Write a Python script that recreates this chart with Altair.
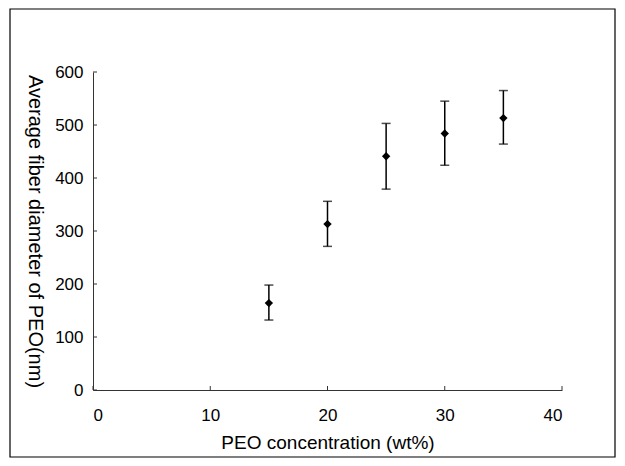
import altair as alt
import pandas as pd

conc = [15, 20, 25, 30, 35]
diam = [164, 313, 441, 484, 513]
low = [132, 271, 379, 424, 464]
high = [198, 356, 503, 545, 565]

x_ticks = [0, 10, 20, 30, 40]
y_ticks = [0, 100, 200, 300, 400, 500, 600]

df = pd.DataFrame({"conc": conc, "diam": diam, "low": low, "high": high})
xt = pd.DataFrame({"v": x_ticks})
yt = pd.DataFrame({"v": y_ticks})

W, H = 469, 318
FONT = "Liberation Sans"

xscale = alt.Scale(domain=[0, 40], nice=False)
yscale = alt.Scale(domain=[0, 600], nice=False)

xaxis = alt.Axis(values=x_ticks, ticks=False, grid=False, domainColor="#333",
                 labelFontSize=17, labelColor="black", labelFont=FONT, labelPadding=17,
                 title="PEO concentration (wt%)", titleFontSize=19, titleFont=FONT,
                 titleFontWeight="normal", titleColor="black", titlePadding=10)
yaxis = alt.Axis(values=y_ticks, ticks=False, grid=False, domainColor="#333",
                 labelFontSize=17, labelColor="black", labelFont=FONT, labelPadding=10,
                 title="Average fiber diameter of PEO(nm)", titleFontSize=20, titleFont=FONT,
                 titleFontWeight="normal", titleColor="black", titleAngle=90,
                 titlePadding=30)

base = alt.Chart(df)

bars = base.mark_rule(color="black", strokeWidth=1.5).encode(
    x=alt.X("conc:Q", scale=xscale, axis=xaxis),
    y=alt.Y("low:Q", scale=yscale, axis=yaxis),
    y2="high:Q",
)
cap_lo = base.mark_tick(color="black", orient="horizontal", size=9, thickness=1.5).encode(
    x=alt.X("conc:Q", scale=xscale), y=alt.Y("low:Q", scale=yscale))
cap_hi = base.mark_tick(color="black", orient="horizontal", size=9, thickness=1.5).encode(
    x=alt.X("conc:Q", scale=xscale), y=alt.Y("high:Q", scale=yscale))
pts = base.mark_point(shape="diamond", filled=True, color="black", size=70, opacity=1).encode(
    x=alt.X("conc:Q", scale=xscale), y=alt.Y("diam:Q", scale=yscale))

xtk = alt.Chart(xt).mark_rule(color="#333", strokeWidth=1).encode(
    x=alt.X("v:Q", scale=xscale), y=alt.value(H), y2=alt.value(H - 4))
ytk = alt.Chart(yt).mark_rule(color="#333", strokeWidth=1).encode(
    y=alt.Y("v:Q", scale=yscale), x=alt.value(0), x2=alt.value(4))

frame = alt.Chart(pd.DataFrame({"a": [0]})).mark_rect(
    fill=None, stroke="black", strokeWidth=1.2, clip=False).encode(
    x=alt.value(-83), x2=alt.value(522), y=alt.value(-63), y2=alt.value(385))

chart = alt.layer(frame, xtk, ytk, bars, cap_lo, cap_hi, pts).properties(
    width=W, height=H,
    background="white",
    autosize=alt.AutoSizeParams(type="none"),
    padding={"left": 85, "top": 64, "right": 55, "bottom": 68},
).configure_view(stroke=None, strokeWidth=0)

chart.save("out.html", embed_options={"renderer": "svg", "actions": False})
